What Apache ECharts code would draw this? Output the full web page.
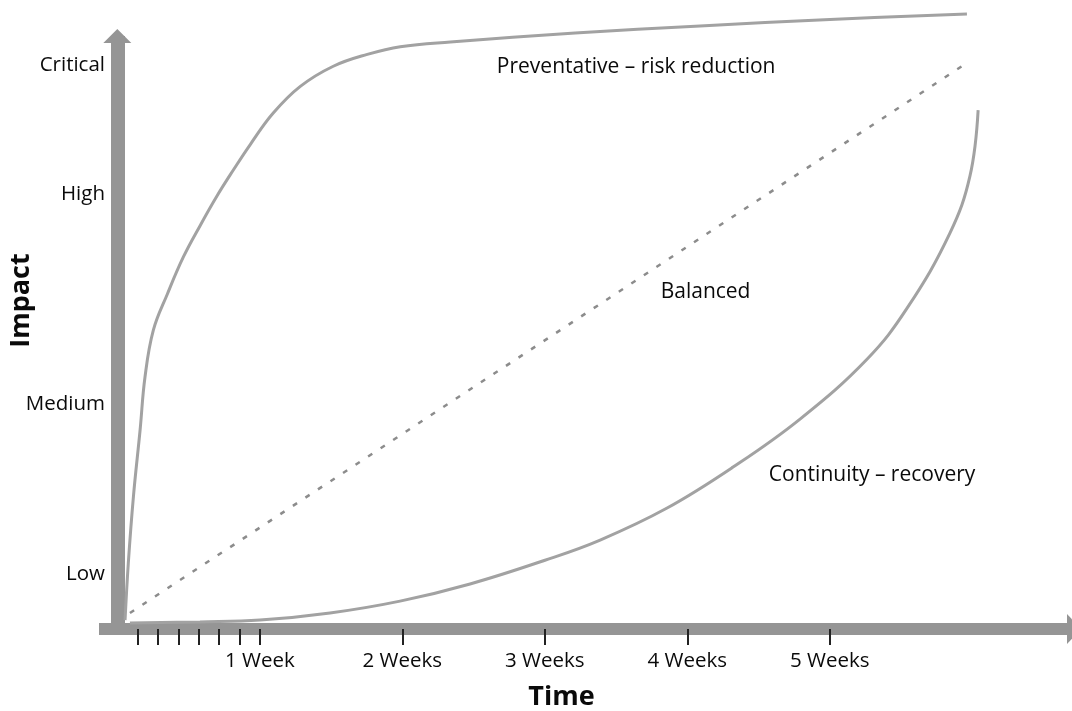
<!DOCTYPE html>
<html>
<head>
<meta charset="utf-8">
<script src="https://cdn.jsdelivr.net/npm/echarts@6/dist/echarts.min.js"></script>
<style>
  * { margin: 0; padding: 0; }
  html, body { width: 100%; height: 100%; background: #fff; }
  #chart { width: 1072px; height: 711px; }
</style>
</head>
<body>
<div id="chart"></div>
<script>
// x = days, y = impact (0-100 scale)
var preventative = [
  [0.38, 1.5], [0.54, 11.1], [0.79, 22.3], [1.12, 33.6], [1.36, 42.5], [1.77, 50.4],
  [2.46, 56.5], [3.24, 62.7], [4.08, 68.1], [4.91, 73.1], [5.7, 77.4], [6.53, 81.7],
  [7.66, 87.0], [8.99, 91.5], [10.61, 94.9], [12.28, 96.9], [13.9, 98.2], [16.36, 99.0],
  [22.49, 100.5], [28.63, 101.7], [35.01, 102.8], [41.74, 103.7]
]
var balanced = [[0.62, 2.7], [41.8, 95.6]]
var continuity = [
  [0.62, 1.0], [4.06, 1.2], [7.01, 1.5], [10.45, 2.7], [13.89, 4.7], [17.33, 7.6],
  [21.01, 11.6], [23.72, 15.0], [27.01, 20.4], [30.25, 27.3], [33.54, 35.4], [36.83, 45.5],
  [38.8, 54.1], [40.91, 66.8], [41.89, 76.4], [42.29, 87.5]
]

var impactLevels = ['Low', 'Medium', 'High', 'Critical']
var impactValues = [9.3, 38.0, 73.4, 95.0]

var weekLabels = ['1 Week', '2 Weeks', '3 Weeks', '4 Weeks', '5 Weeks']
var weekDays = [7, 14, 21, 28, 35]
var dayTicks = [1, 2, 3, 4, 5, 6, 7, 14, 21, 28, 35]

// annotation text anchors [day, impact]
var notePreventative = [25.49, 94.8]
var noteBalanced = [28.9, 56.9]
var noteContinuity = [37.08, 26.0]

var FONT = '"Open Sans", "Noto Sans", sans-serif'
var AXIS_GRAY = '#959595'
var CURVE_GRAY = '#a2a2a2'

function note(coord, text) {
  return {
    silent: true,
    symbol: 'circle',
    symbolSize: 1,
    itemStyle: { color: 'rgba(0,0,0,0)' },
    label: {
      show: true,
      position: 'inside',
      color: '#0a0a0a',
      fontFamily: FONT,
      fontSize: 21,
      formatter: text
    },
    data: [{ coord: coord }]
  }
}

var chart = echarts.init(document.getElementById('chart'))
var options = {
  animation: false,
  backgroundColor: '#fff',
  grid: {
    left: 99,
    top: 36,
    width: 975,
    height: 593,
    containLabel: false,
    outerBoundsMode: 'none'
  },
  xAxis: {
    type: 'value',
    min: -0.9,
    max: 47,
    name: 'Time',
    nameLocation: 'middle',
    nameGap: 55,
    nameMoveOverlap: false,
    nameTextStyle: {
      color: '#0a0a0a',
      fontFamily: FONT,
      fontWeight: 'bold',
      fontSize: 27,
      padding: [0, 50, 0, 0]
    },
    axisLine: {
      show: true,
      onZero: false,
      symbol: ['none', 'triangle'],
      symbolSize: [30, 14],
      lineStyle: { color: AXIS_GRAY, width: 12, cap: 'butt' }
    },
    axisTick: {
      show: true,
      customValues: dayTicks,
      length: 16,
      lineStyle: { color: '#222', width: 2 }
    },
    axisLabel: {
      customValues: weekDays,
      margin: 22,
      color: '#0a0a0a',
      fontFamily: FONT,
      fontSize: 20.5,
      formatter: function(value) {
        return weekLabels[weekDays.indexOf(value)]
      }
    },
    splitLine: { show: false }
  },
  yAxis: {
    type: 'value',
    min: 0,
    max: 100,
    name: 'Impact',
    nameLocation: 'middle',
    nameGap: 64,
    nameMoveOverlap: false,
    nameTextStyle: {
      color: '#0a0a0a',
      fontFamily: FONT,
      fontWeight: 'bold',
      fontSize: 27,
      padding: [0, 0, 0, 64]
    },
    axisLine: {
      show: true,
      onZero: true,
      symbol: ['none', 'triangle'],
      symbolSize: [28, 14],
      lineStyle: { color: AXIS_GRAY, width: 14, cap: 'butt' }
    },
    axisTick: { show: false },
    axisLabel: {
      customValues: impactValues,
      margin: -6,
      color: '#0a0a0a',
      fontFamily: FONT,
      fontSize: 20.5,
      formatter: function(value) {
        return impactLevels[impactValues.indexOf(value)]
      }
    },
    splitLine: { show: false }
  },
  series: [
    {
      name: 'Preventative – risk reduction',
      type: 'line',
      data: preventative,
      smooth: 0.4,
      showSymbol: false,
      clip: false,
      lineStyle: { color: CURVE_GRAY, width: 3 },
      markPoint: note(notePreventative, 'Preventative – risk reduction')
    },
    {
      name: 'Balanced',
      type: 'line',
      data: balanced,
      showSymbol: false,
      clip: false,
      lineStyle: { color: '#8c8c8c', width: 2.5, type: [5, 10] },
      markPoint: note(noteBalanced, 'Balanced')
    },
    {
      name: 'Continuity – recovery',
      type: 'line',
      data: continuity,
      smooth: 0.4,
      showSymbol: false,
      clip: false,
      lineStyle: { color: CURVE_GRAY, width: 3 },
      markPoint: note(noteContinuity, 'Continuity – recovery')
    }
  ]
}
chart.setOption(options)
window.addEventListener('resize', () => {
  chart.resize()
}, false)
</script>
</body>
</html>
